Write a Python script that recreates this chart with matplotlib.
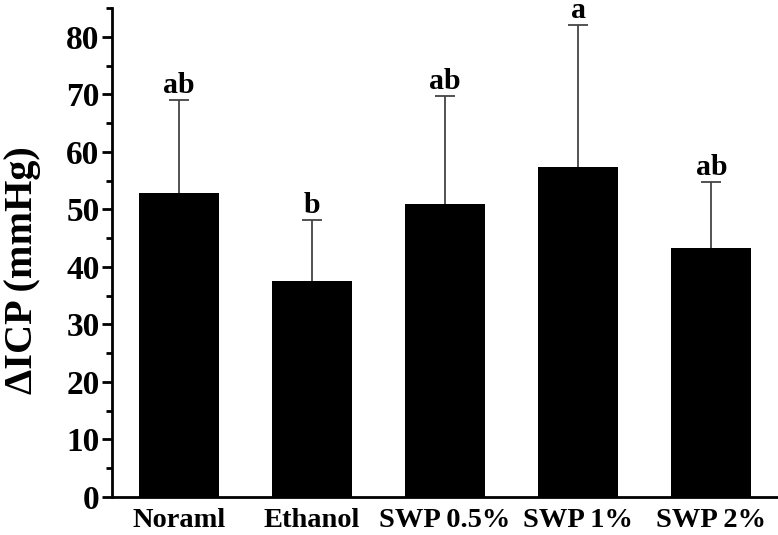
import numpy as np
import matplotlib
matplotlib.use("Agg")
import matplotlib.pyplot as plt
from matplotlib.ticker import MultipleLocator

# data
groups = ["Noraml", "Ethanol", "SWP 0.5%", "SWP 1%", "SWP 2%"]
means = [52.8, 37.6, 50.9, 57.3, 43.2]
upper_err = [16.2, 10.6, 18.8, 24.7, 11.5]
letters = ["ab", "b", "ab", "a", "ab"]

plt.rcParams["font.family"] = ["Liberation Serif", "DejaVu Serif"]
plt.rcParams["font.weight"] = "bold"

fig = plt.figure(figsize=(7.78, 5.35), dpi=100)
ax = fig.add_axes([0.144, 0.071, 0.856, 0.914])

x = np.arange(len(groups))
ax.bar(x, means, width=0.6, color="black", zorder=2)
eb = ax.errorbar(x, means, yerr=[np.zeros(len(means)), upper_err], fmt="none",
                 ecolor="#444444", elinewidth=1.3, capsize=7, capthick=1.3,
                 zorder=1)
# only the upper whisker is shown
eb[1][0].set_visible(False)

for xi, m, e, lab in zip(x, means, upper_err, letters):
    ax.annotate(lab, (xi, m + e), xytext=(0, 5), textcoords="offset points",
                ha="center", va="baseline", fontsize=21.5, fontweight="bold")

ax.set_xlim(-0.5, 4.5)
ax.set_ylim(0, 85)
ax.yaxis.set_major_locator(MultipleLocator(10))
ax.yaxis.set_minor_locator(MultipleLocator(5))
ax.set_xticks(x)
ax.set_xticklabels(groups, fontsize=20.5, fontweight="bold")
ax.tick_params(axis="x", length=0, pad=8)
ax.tick_params(axis="y", which="major", direction="out", length=7, width=2,
               labelsize=24, pad=2)
ax.tick_params(axis="y", which="minor", direction="out", length=4, width=2)
for t in ax.get_yticklabels():
    t.set_fontweight("bold")

for s in ["top", "right"]:
    ax.spines[s].set_visible(False)
for s in ["left", "bottom"]:
    ax.spines[s].set_linewidth(2)

ax.set_ylabel("ΔICP (mmHg)", fontsize=29, fontweight="bold")
ax.yaxis.set_label_coords(-0.106, 0.465)

fig.savefig("out.png", dpi=100)
